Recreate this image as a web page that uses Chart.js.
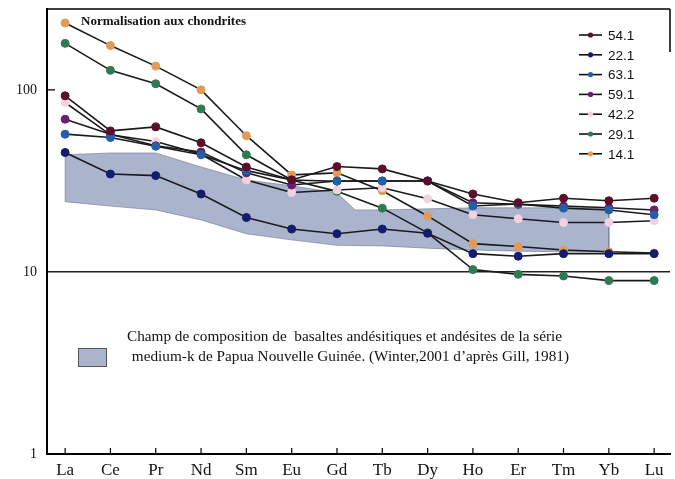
<!DOCTYPE html>
<html>
<head>
<meta charset="utf-8">
<script src="https://cdn.jsdelivr.net/npm/chart.js@4.4.1/dist/chart.umd.min.js"></script>
<style>
html,body{margin:0;padding:0;background:#fff;}
#wrap{width:675px;height:479px;position:relative;}
</style>
</head>
<body>
<div id="wrap"><canvas id="c" width="675" height="479"></canvas></div>
<script>
// ---- data ----
const elements = ['La','Ce','Pr','Nd','Sm','Eu','Gd','Tb','Dy','Ho','Er','Tm','Yb','Lu'];
const seriesNames = ['54.1','22.1','63.1','59.1','42.2','29.1','14.1'];
const s54_1 = [92.7,59.5,62.6,51.2,37.7,32,37.9,36.8,31.6,26.8,24.0,25.4,24.6,25.4];
const s22_1 = [45.3,34.5,33.8,26.8,19.9,17.2,16.2,17.2,16.3,12.6,12.2,12.6,12.6,12.6];
const s63_1 = [57.1,54.7,49,44,36,32,31.5,31.6,31.6,23,23.6,22.4,21.9,20.6];
const s59_1 = [69,57,49.3,45.6,35,30,31.6,31.6,31.6,24,23.5,23,22.5,21.9];
const s42_2 = [85.2,56.6,52,44.3,32,27.3,28.2,29,25.2,20.6,19.6,18.7,18.7,19.1];
const s29_1 = [180,128,108,78.6,44,32,27.7,22.4,16.4,10.3,9.7,9.5,8.96,8.96];
const s14_1 = [233,175,135,100,56,34.1,35,27.9,20.3,14.3,13.8,13.2,12.9,12.7];
// Papua New Guinea medium-K field (upper boundary, lower boundary)
const bandUpperX = [0,1,2,3,4,5,6,6.4,7,8,9,10,11,12];
const bandUpperY = [44,45,45,37.7,32,29.7,27.2,21.9,21.9,22.2,22.5,22.5,22.5,22.5];
const bandLowerX = [0,1,2,3,4,5,6,7,8,9,10,11,12];
const bandLowerY = [24.3,23,21.9,19.3,16.2,15.0,14.0,13.9,13.5,13.2,13.0,12.9,12.9];
const yTicks = [1,10,100];
const titleText = 'Normalisation aux chondrites';
const fieldText = ['Champ de composition de  basaltes andésitiques et andésites de la série',
                   ' medium-k de Papua Nouvelle Guinée. (Winter,2001 d\u2019après Gill, 1981)'];

const seriesValues = [s54_1,s22_1,s63_1,s59_1,s42_2,s29_1,s14_1];
const seriesColors = ['#5a1028','#141c6e','#2160a8','#6a1f72','#f2d2de','#2f7a55','#e39a55'];
const bandColor = 'rgb(170,181,205)';

const bandPoly = bandUpperX.map((x,i)=>({x:x,y:bandUpperY[i]}))
  .concat(bandLowerX.map((x,i)=>({x:x,y:bandLowerY[i]})).reverse());
bandPoly.push({x:bandUpperX[0],y:bandUpperY[0]});

const datasets = [{
  label:'field', data:bandPoly, fill:'shape', backgroundColor:bandColor,
  borderColor:'rgba(110,118,140,0.6)', borderWidth:1, pointRadius:0, tension:0, order:10
}];
seriesNames.forEach((n,k)=>{
  datasets.push({
    label:n,
    data:seriesValues[k].map((v,i)=>({x:i,y:v})),
    borderColor:'#1a1a1a', borderWidth:1.6,
    pointBackgroundColor:seriesColors[k], pointBorderColor:seriesColors[k],
    pointRadius:4, pointBorderWidth:1, fill:false, tension:0, order:k
  });
});

function fitText(ctx, txt, x, y, w){
  const m = ctx.measureText(txt).width;
  ctx.save();
  ctx.translate(x, y);
  ctx.scale(w/m, 1);
  ctx.fillText(txt, 0, 0);
  ctx.restore();
}

const decor = {
  id:'decor',
  afterDraw(chart){
    const ctx = chart.ctx, a = chart.chartArea;
    const xs = chart.scales.x, ys = chart.scales.y;
    ctx.save();
    ctx.strokeStyle = '#000';
    // frame top + right partial
    ctx.lineWidth = 1.5;
    ctx.beginPath();
    ctx.moveTo(a.left, a.top); ctx.lineTo(a.right, a.top);
    ctx.moveTo(a.right, a.top); ctx.lineTo(a.right, a.top+43);
    ctx.stroke();
    // inner ticks on x
    ctx.lineWidth = 1.2;
    ctx.beginPath();
    elements.forEach((e,i)=>{
      const px = xs.getPixelForValue(i);
      ctx.moveTo(px, a.bottom); ctx.lineTo(px, a.bottom-6);
    });
    // inner tick at 100
    const p100 = ys.getPixelForValue(100);
    ctx.moveTo(a.left, p100); ctx.lineTo(a.left+8, p100);
    ctx.stroke();
    // title
    ctx.fillStyle = '#111';
    ctx.font = 'bold 13px "Liberation Serif", serif';
    ctx.textBaseline = 'middle';
    fitText(ctx, titleText, 81, 22, 165);
    // series legend
    ctx.font = '13.5px "Liberation Sans", Arial, sans-serif';
    seriesNames.forEach((n,k)=>{
      const y = 35 + k*19.8;
      ctx.strokeStyle = '#111'; ctx.lineWidth = 1.6;
      ctx.beginPath(); ctx.moveTo(579,y); ctx.lineTo(602,y); ctx.stroke();
      ctx.fillStyle = seriesColors[k];
      ctx.beginPath(); ctx.arc(590.5,y,2.6,0,Math.PI*2); ctx.fill();
      ctx.fillStyle = '#111';
      ctx.fillText(n, 608, y+1);
    });
    // field legend
    ctx.fillStyle = bandColor;
    ctx.fillRect(78,348,29,19);
    ctx.strokeStyle = '#555'; ctx.lineWidth = 1;
    ctx.strokeRect(78.5,348.5,28,18);
    ctx.fillStyle = '#111';
    ctx.font = '14px "Liberation Serif", serif';
    fitText(ctx, fieldText[0], 127, 337, 435);
    fitText(ctx, fieldText[1], 128, 357, 441);
    ctx.restore();
  }
};

new Chart(document.getElementById('c'), {
  type:'line',
  data:{datasets:datasets},
  options:{
    responsive:false, animation:false,
    layout:{padding:{top:9,right:2,left:0,bottom:0}},
    plugins:{legend:{display:false}, tooltip:{enabled:false}},
    scales:{
      x:{
        type:'linear', min:-0.4, max:13.35,
        afterBuildTicks(s){ s.ticks = elements.map((e,i)=>({value:i})); },
        afterFit(s){ s.height = 25; s.paddingLeft = 0; s.paddingRight = 0; },
        ticks:{ callback:(v)=>elements[v], color:'#111', padding:6,
          font:{family:'"Liberation Serif", serif', size:17}, maxRotation:0, autoSkip:false },
        grid:{display:false, drawTicks:false},
        border:{display:true, color:'#000', width:2}
      },
      y:{
        type:'logarithmic', min:1, max:278,
        afterBuildTicks(s){ s.ticks = yTicks.map(v=>({value:v})); },
        afterFit(s){ s.width = 47; s.paddingTop = 0; s.paddingBottom = 0; },
        ticks:{ callback:(v)=>String(v), color:'#111', padding:10,
          font:{family:'"Liberation Serif", serif', size:14} },
        grid:{ drawTicks:false, lineWidth:1.6,
          color:(c)=> (c.tick && c.tick.value===10) ? '#222' : 'rgba(0,0,0,0)' },
        border:{display:true, color:'#000', width:2}
      }
    }
  },
  plugins:[decor]
});
</script>
</body>
</html>
